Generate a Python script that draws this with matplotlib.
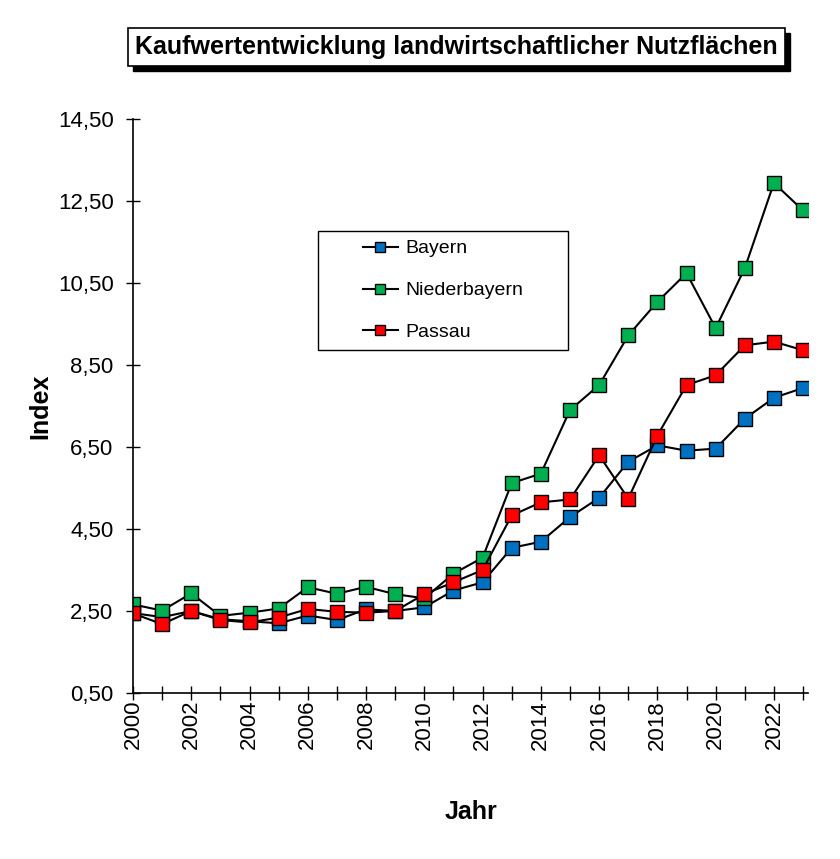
import numpy as np
import matplotlib as mpl
mpl.use("Agg")
import matplotlib.pyplot as plt
from matplotlib.patches import Rectangle
from matplotlib.ticker import FuncFormatter, MultipleLocator

years = list(range(2000, 2024))

bayern = [2.45, 2.35, 2.50, 2.30, 2.25, 2.20, 2.39, 2.28, 2.54, 2.50, 2.59, 3.00,
          3.20, 4.04, 4.19, 4.79, 5.26, 6.14, 6.54, 6.41, 6.46, 7.19, 7.70, 7.94]
niederbayern = [2.66, 2.51, 2.93, 2.38, 2.46, 2.56, 3.08, 2.92, 3.09, 2.91, 2.81, 3.41,
                3.80, 5.62, 5.85, 7.40, 8.01, 9.22, 10.04, 10.74, 9.40, 10.86, 12.94, 12.27]
passau = [2.44, 2.18, 2.50, 2.28, 2.22, 2.34, 2.55, 2.48, 2.46, 2.50, 2.91, 3.20,
          3.50, 4.83, 5.15, 5.22, 6.30, 5.24, 6.78, 8.01, 8.25, 8.98, 9.07, 8.86]
y_ticks = [0.5, 2.5, 4.5, 6.5, 8.5, 10.5, 12.5, 14.5]

series = [("Bayern", bayern, "#0070C0"),
          ("Niederbayern", niederbayern, "#00B050"),
          ("Passau", passau, "#FF0000")]

TITLE = "Kaufwertentwicklung landwirtschaftlicher Nutzflächen"
FONT = ["Liberation Sans", "DejaVu Sans"]
NARROW = ["DejaVu Sans Condensed", "Liberation Sans", "DejaVu Sans"]

W, H = 840, 859
fig = plt.figure(figsize=(W / 100, H / 100), dpi=100)
ax = fig.add_axes([133 / W, 1 - 693 / H, (808 - 133) / W, (693 - 119) / H])

for name, vals, col in series:
    ax.plot(years, vals, color="black", lw=1.5, marker="s", ms=9.5,
            mfc=col, mec="black", mew=1.0, label=name)

ax.set_xlim(2000, 2023.17)
ax.set_ylim(0.5, 14.5)
ax.xaxis.set_major_locator(MultipleLocator(2))
ax.xaxis.set_minor_locator(MultipleLocator(1))
ax.set_yticks(y_ticks)
ax.yaxis.set_major_formatter(FuncFormatter(lambda v, p: f"{v:.2f}".replace(".", ",")))
ax.tick_params(axis="x", which="both", direction="inout", length=10, width=1,
               labelrotation=90, labelsize=16, pad=0)
ax.tick_params(axis="y", direction="inout", length=10, width=1, labelsize=16, pad=9)
for lab in ax.get_xticklabels() + ax.get_yticklabels():
    lab.set_family(FONT)
for s in ("top", "right"):
    ax.spines[s].set_visible(False)
for s in ("left", "bottom"):
    ax.spines[s].set_linewidth(1.2)

ax.set_ylabel("Index", fontsize=18, fontweight="bold", family=NARROW, labelpad=4)
ax.set_xlabel("Jahr", fontsize=18, fontweight="bold", family=NARROW, labelpad=36)

# legend: fixed box drawn separately, entries centred inside it
lx0, ly0, lx1, ly1 = 318, 231, 568, 350
fig.patches.append(Rectangle((lx0 / W, 1 - ly1 / H), (lx1 - lx0) / W, (ly1 - ly0) / H,
                             transform=fig.transFigure, facecolor="white",
                             edgecolor="black", lw=1.0, zorder=2))
leg = fig.legend(*ax.get_legend_handles_labels(), loc="center",
                 bbox_to_anchor=((lx0 + lx1) / 2 / W, 1 - (ly0 + ly1) / 2 / H),
                 frameon=False, prop={"family": FONT, "size": 14},
                 markerscale=0.75, handlelength=1.8, labelspacing=1.25,
                 handletextpad=0.4, borderpad=0)
leg.set_zorder(3)

# title box with drop shadow
x0, y0, bw, bh = 128 / W, 1 - 66 / H, 657 / W, 38 / H
fig.patches.append(Rectangle((x0 + 5 / W, y0 - 5 / H), bw, bh, transform=fig.transFigure,
                             facecolor="black", edgecolor="black", zorder=1))
fig.patches.append(Rectangle((x0, y0), bw, bh, transform=fig.transFigure,
                             facecolor="white", edgecolor="black", lw=1.2, zorder=2))
fig.text(x0 + bw / 2, y0 + bh / 2, TITLE, ha="center", va="center", fontsize=18,
         fontweight="bold", family=NARROW, zorder=3)

fig.savefig("out.png", dpi=100)
